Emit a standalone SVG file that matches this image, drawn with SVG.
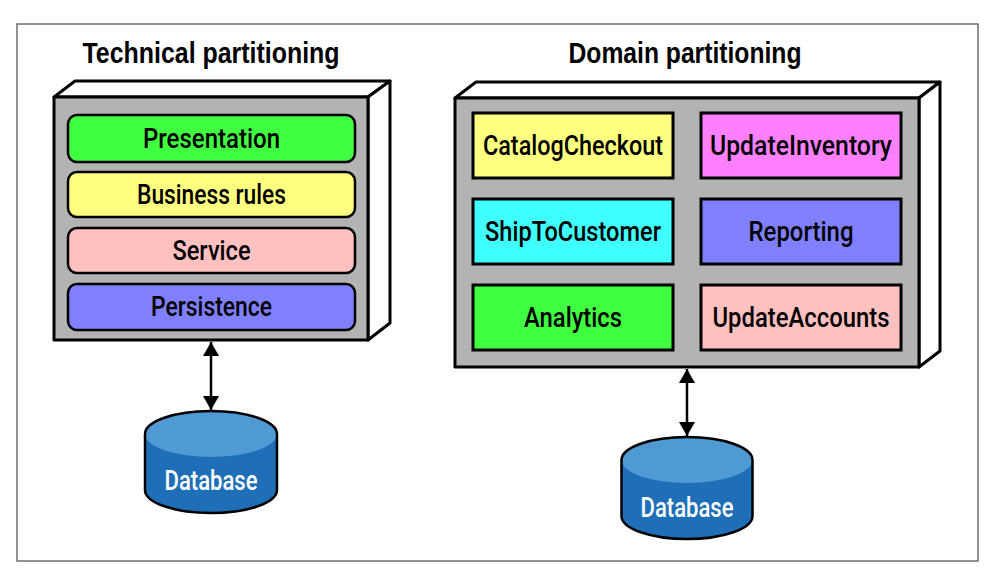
<svg xmlns="http://www.w3.org/2000/svg" width="994" height="573" viewBox="0 0 994 573">
<defs>
<style>
.frame{fill:none;stroke:#6e6e6e;stroke-width:1.5}
.face{fill:#b3b3b3;stroke:#000;stroke-width:3;stroke-linejoin:round}
.side{fill:#fff;stroke:#000;stroke-width:3;stroke-linejoin:round}
.bar{stroke:#000;stroke-width:2.5}
.box{stroke:#000;stroke-width:3}
.title{font-family:"Liberation Sans",Arial,sans-serif;font-weight:bold;font-size:29px;fill:#000;text-anchor:middle}
.lbl{font-family:Roboto,"Liberation Sans",Arial,sans-serif;font-weight:500;font-size:27px;fill:#000;text-anchor:middle}
.db{font-family:Roboto,"Liberation Sans",Arial,sans-serif;font-weight:500;font-size:27px;fill:#fff;text-anchor:middle}
.cylbody{fill:#1e6fb7}
.cyltop{fill:#4f9ad3}
.cylline{fill:none;stroke:#000;stroke-width:2.5}
.conn{fill:none;stroke:#000;stroke-width:2.5;marker-start:url(#ah);marker-end:url(#ah)}
</style>
<marker id="ah" markerUnits="userSpaceOnUse" viewBox="0 0 14 16" refX="14" refY="8" markerWidth="14" markerHeight="16" orient="auto-start-reverse">
<path d="M0,0 L14,8 L0,16 Z" fill="#000"/>
</marker>
</defs>
<rect class="frame" x="17" y="24" width="961" height="537"/>

<g id="title-technical"><text class="title" x="211" y="63" textLength="257" lengthAdjust="spacingAndGlyphs">Technical partitioning</text></g>
<g id="title-domain"><text class="title" x="685" y="63" textLength="233" lengthAdjust="spacingAndGlyphs">Domain partitioning</text></g>

<g id="technical-container">
<polygon class="side" points="54,97 75,81 390,81 368,97"/>
<polygon class="side" points="368,97 390,81 390,323 368,340"/>
<rect class="face" x="54" y="97" width="314" height="243"/>
</g>
<g id="presentation"><rect class="bar" x="68" y="115" width="287" height="47" rx="9" fill="#40ff40"/><text class="lbl" x="211.5" y="148" textLength="137" lengthAdjust="spacingAndGlyphs">Presentation</text></g>
<g id="business-rules"><rect class="bar" x="68" y="172" width="287" height="45" rx="9" fill="#ffff80"/><text class="lbl" x="211.5" y="204" textLength="149" lengthAdjust="spacingAndGlyphs">Business rules</text></g>
<g id="service"><rect class="bar" x="68" y="228" width="287" height="45" rx="9" fill="#ffc0c0"/><text class="lbl" x="211.5" y="260" textLength="78" lengthAdjust="spacingAndGlyphs">Service</text></g>
<g id="persistence"><rect class="bar" x="68" y="284" width="287" height="46" rx="9" fill="#8080ff"/><text class="lbl" x="211.5" y="316" textLength="121" lengthAdjust="spacingAndGlyphs">Persistence</text></g>

<g id="domain-container">
<polygon class="side" points="455,98 476,82 940,82 919,98"/>
<polygon class="side" points="919,98 940,82 940,351 919,367"/>
<rect class="face" x="455" y="98" width="464" height="269"/>
</g>
<g id="catalog-checkout"><rect class="box" x="473" y="113" width="200" height="65" fill="#ffff80"/><text class="lbl" x="573" y="155" textLength="180" lengthAdjust="spacingAndGlyphs">CatalogCheckout</text></g>
<g id="update-inventory"><rect class="box" x="701" y="113" width="200" height="65" fill="#ff80ff"/><text class="lbl" x="801" y="155" textLength="182" lengthAdjust="spacingAndGlyphs">UpdateInventory</text></g>
<g id="ship-to-customer"><rect class="box" x="473" y="199" width="200" height="65" fill="#40ffff"/><text class="lbl" x="573" y="241" textLength="176" lengthAdjust="spacingAndGlyphs">ShipToCustomer</text></g>
<g id="reporting"><rect class="box" x="701" y="199" width="200" height="65" fill="#8080ff"/><text class="lbl" x="801" y="241" textLength="105" lengthAdjust="spacingAndGlyphs">Reporting</text></g>
<g id="analytics"><rect class="box" x="473" y="285" width="200" height="65" fill="#40ff40"/><text class="lbl" x="573" y="327" textLength="98" lengthAdjust="spacingAndGlyphs">Analytics</text></g>
<g id="update-accounts"><rect class="box" x="701" y="285" width="200" height="65" fill="#ffc0c0"/><text class="lbl" x="801" y="327" textLength="177" lengthAdjust="spacingAndGlyphs">UpdateAccounts</text></g>

<g id="database-technical">
<path class="cylbody" d="M145,434 A66,23 0 0 1 277,434 V490 A66,23 0 0 1 145,490 Z"/>
<ellipse class="cyltop" cx="211" cy="434" rx="66" ry="23"/>
<path class="cylline" d="M145,434 A66,23 0 0 1 277,434 V490 A66,23 0 0 1 145,490 Z"/>
<text class="db" x="211" y="490" textLength="93" lengthAdjust="spacingAndGlyphs">Database</text>
</g>
<g id="database-domain">
<path class="cylbody" d="M621.5,460 A65.5,23 0 0 1 752.5,460 V516 A65.5,23 0 0 1 621.5,516 Z"/>
<ellipse class="cyltop" cx="687" cy="460" rx="65.5" ry="23"/>
<path class="cylline" d="M621.5,460 A65.5,23 0 0 1 752.5,460 V516 A65.5,23 0 0 1 621.5,516 Z"/>
<text class="db" x="687" y="517" textLength="93" lengthAdjust="spacingAndGlyphs">Database</text>
</g>

<g id="connectors">
<path class="conn" d="M211,342 V410"/>
<path class="conn" d="M687,369 V436"/>
</g>
</svg>
